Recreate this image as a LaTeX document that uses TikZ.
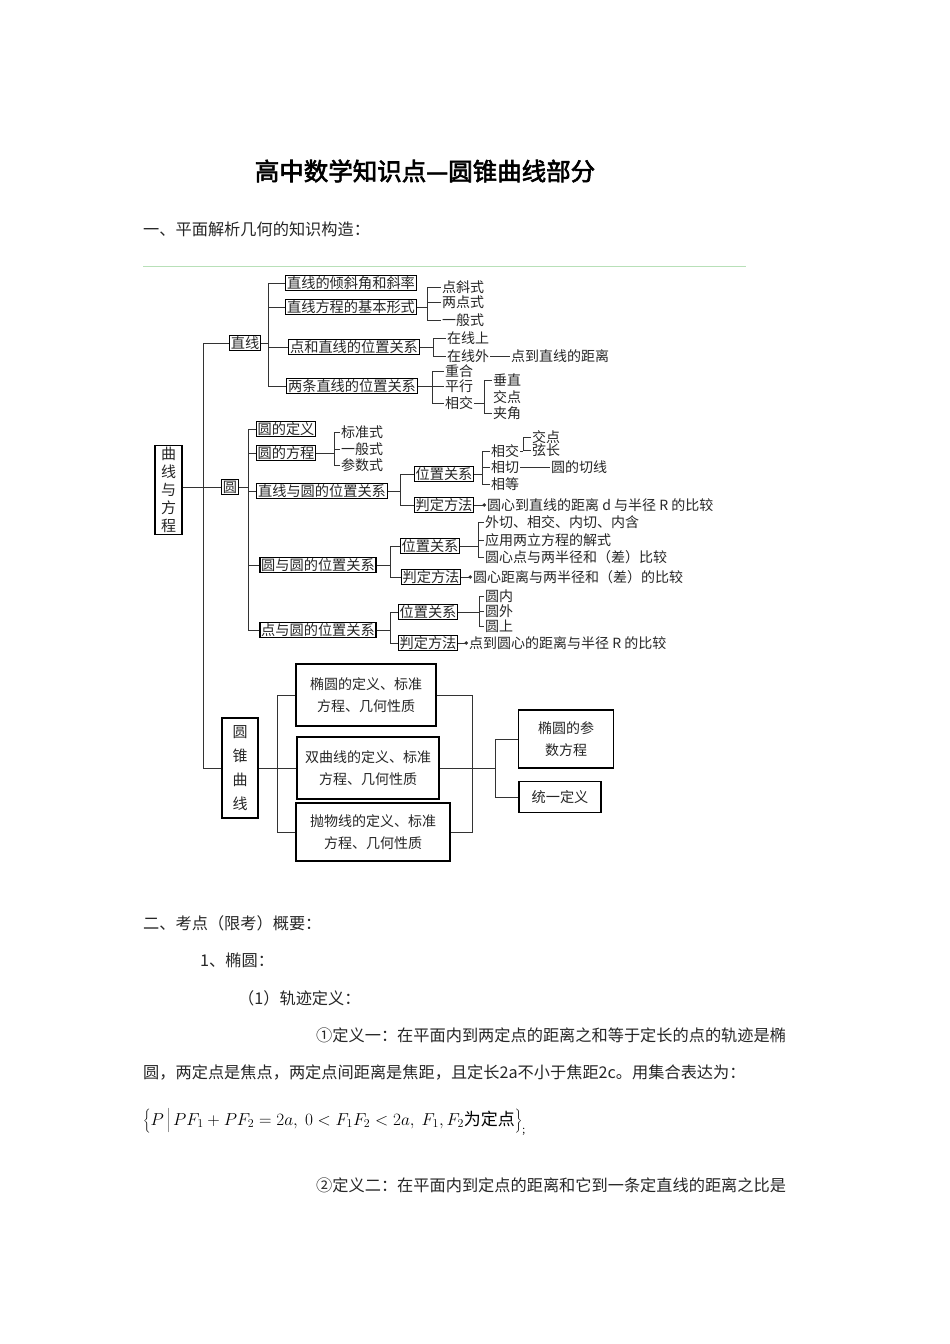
\documentclass[tikz,border=0pt]{standalone}
\usepackage{fontspec}
\usetikzlibrary{arrows.meta}
\newfontfamily\cjk[AutoFakeBold=2.5]{Noto Sans CJK SC}
\setmainfont{Liberation Serif}
\begin{document}
\begin{tikzpicture}[x=1pt,y=-1pt,
  bx/.style={draw,line width=1.1pt,inner sep=1.2pt,font=\cjk\fontsize{14.2}{15}\selectfont,text=black!85},
  lb/.style={anchor=west,inner sep=1pt,font=\cjk\fontsize{14}{15}\selectfont,text=black!85},
  tx/.style={anchor=west,inner sep=0pt,font=\cjk\fontsize{16.2}{18}\selectfont,text=black!85},
  ln/.style={line width=0.9pt,black!80},
  dotarr/.style={ln,-{Circle[length=3.5pt]}}]
\useasboundingbox (0,0) rectangle (950,1344);
\fill[white] (0,0) rectangle (950,1344);
% title and headings
\node[font=\cjk\fontsize{24.5}{26}\selectfont\bfseries] (title) at (425,171) {高中数学知识点—圆锥曲线部分};
\node[tx] (h1) at (143,229) {一、平面解析几何的知识构造：};
\draw[green!40!gray!40,line width=0.8pt] (143,266) -- (746,266);
% root
\node[bx,minimum width=27pt,minimum height=89pt,align=center,font=\cjk\fontsize{15}{18}\selectfont] (root) at (168.5,490) {曲\\线\\与\\方\\程};
\node[bx] (yuan) at (230,487) {圆};
\node[bx] (zx) at (245,343) {直线};
\node[bx,minimum width=36pt,minimum height=100pt,align=center,font=\cjk\fontsize{15}{24}\selectfont] (zq) at (240,768) {圆\\锥\\曲\\线};
\coordinate (T) at (203,0);
\draw[ln] (root.east |- yuan) -- (yuan.west);
\draw[ln] (zx.west) -- (zx.west -| T) -- (zq.west -| T) -- (zq.west);
% 直线 branch
\node[bx] (z1) at (351,283) {直线的倾斜角和斜率};
\node[bx] (z2) at (351,307) {直线方程的基本形式};
\node[bx] (z3) at (354,347) {点和直线的位置关系};
\node[bx] (z4) at (352,386) {两条直线的位置关系};
\coordinate (Z) at (268,0);
\draw[ln] (zx.east) -- (zx.east -| Z);
\draw[ln] (z1.west) -- (z1.west -| Z) -- (z4.west -| Z) -- (z4.west);
\draw[ln] (z2.west) -- (z2.west -| Z);
\draw[ln] (z3.west) -- (z3.west -| Z);
\node[lb] (a1) at (441,287) {点斜式};
\node[lb] (a2) at (441,302) {两点式};
\node[lb] (a3) at (441,320) {一般式};
\coordinate (A) at (427,0);
\draw[ln] (z2.east) -- (z2.east -| A);
\draw[ln] (a1.west) -- (a1.west -| A) -- (a3.west -| A) -- (a3.west);
\draw[ln] (a2.west) -- (a2.west -| A);
\node[lb] (b1) at (446,338) {在线上};
\node[lb] (b2) at (446,356) {在线外};
\node[lb] (b3) at (510,356) {点到直线的距离};
\coordinate (B) at (433,0);
\draw[ln] (z3.east) -- (z3.east -| B);
\draw[ln] (b1.west) -- (b1.west -| B) -- (b2.west -| B) -- (b2.west);
\draw[ln] (b2.east) -- (b3.west);
\node[lb] (c1) at (444,371) {重合};
\node[lb] (c2) at (444,386) {平行};
\node[lb] (c3) at (444,403) {相交};
\coordinate (C) at (432,0);
\draw[ln] (z4.east) -- (z4.east -| C);
\draw[ln] (c1.west) -- (c1.west -| C) -- (c3.west -| C) -- (c3.west);
\draw[ln] (c2.west) -- (c2.west -| C);
\node[lb] (d1) at (492,380) {垂直};
\node[lb] (d2) at (492,397) {交点};
\node[lb] (d3) at (492,413) {夹角};
\coordinate (D) at (484,0);
\draw[ln] (c3.east) -- (c3.east -| D);
\draw[ln] (d1.west) -- (d1.west -| D) -- (d3.west -| D) -- (d3.west);
% 圆 branch
\node[bx] (y1) at (286,429) {圆的定义};
\node[bx] (y2) at (286,453) {圆的方程};
\node[bx] (y3) at (322,491) {直线与圆的位置关系};
\node[bx] (y4) at (318,565) {圆与圆的位置关系};
\node[bx] (y5) at (318,630) {点与圆的位置关系};
\coordinate (Y) at (248,0);
\draw[ln] (yuan.east) -- (yuan.east -| Y);
\draw[ln] (y1.west) -- (y1.west -| Y) -- (y5.west -| Y) -- (y5.west);
\draw[ln] (y2.west) -- (y2.west -| Y);
\draw[ln] (y3.west) -- (y3.west -| Y);
\draw[ln] (y4.west) -- (y4.west -| Y);
\node[lb] (e1) at (340,432) {标准式};
\node[lb] (e2) at (340,449) {一般式};
\node[lb] (e3) at (340,465) {参数式};
\coordinate (E) at (334,0);
\draw[ln] (y2.east) -- (y2.east -| E);
\draw[ln] (e1.west) -- (e1.west -| E) -- (e3.west -| E) -- (e3.west);
\draw[ln] (e2.west) -- (e2.west -| E);
% 直线与圆
\node[bx] (f1) at (444,474) {位置关系};
\node[bx] (f2) at (444,505) {判定方法};
\coordinate (F) at (400,0);
\draw[ln] (y3.east) -- (y3.east -| F);
\draw[ln] (f1.west) -- (f1.west -| F) -- (f2.west -| F) -- (f2.west);
\node[lb] (f3) at (486,505) {圆心到直线的距离 \textit{d} 与半径 \textit{R} 的比较};
\draw[dotarr] (f2.east) -- (f3.west);
\node[lb] (g1) at (490,451) {相交};
\node[lb] (g2) at (490,467) {相切};
\node[lb] (g3) at (490,484) {相等};
\coordinate (G) at (482,0);
\draw[ln] (f1.east) -- (f1.east -| G);
\draw[ln] (g1.west) -- (g1.west -| G) -- (g3.west -| G) -- (g3.west);
\draw[ln] (g2.west) -- (g2.west -| G);
\node[lb] (h1a) at (531,437) {交点};
\node[lb] (h2a) at (531,450) {弦长};
\coordinate (H) at (523,0);
\draw[ln] (g1.east) -- (g1.east -| H);
\draw[ln] (h1a.west) -- (h1a.west -| H) -- (h2a.west -| H) -- (h2a.west);
\node[lb] (h3a) at (550,467) {圆的切线};
\draw[ln] (g2.east) -- (h3a.west);
% 圆与圆
\node[bx] (i1) at (430,546) {位置关系};
\node[bx] (i2) at (431,577) {判定方法};
\coordinate (I) at (390,0);
\draw[ln] (y4.east) -- (y4.east -| I);
\draw[ln] (i1.west) -- (i1.west -| I) -- (i2.west -| I) -- (i2.west);
\node[lb] (i3) at (472,577) {圆心距离与两半径和（差）的比较};
\draw[dotarr] (i2.east) -- (i3.west);
\node[lb] (j1) at (484,522) {外切、相交、内切、内含};
\node[lb] (j2) at (484,540) {应用两立方程的解式};
\node[lb] (j3) at (484,557) {圆心点与两半径和（差）比较};
\coordinate (J) at (478,0);
\draw[ln] (i1.east) -- (i1.east -| J);
\draw[ln] (j1.west) -- (j1.west -| J) -- (j3.west -| J) -- (j3.west);
\draw[ln] (j2.west) -- (j2.west -| J);
% 点与圆
\node[bx] (k1) at (428,612) {位置关系};
\node[bx] (k2) at (428,643) {判定方法};
\coordinate (K) at (390,0);
\draw[ln] (y5.east) -- (y5.east -| K);
\draw[ln] (k1.west) -- (k1.west -| K) -- (k2.west -| K) -- (k2.west);
\node[lb] (k3) at (468,643) {点到圆心的距离与半径 \textit{R} 的比较};
\draw[dotarr] (k2.east) -- (k3.west);
\node[lb] (l1) at (484,596) {圆内};
\node[lb] (l2) at (484,611) {圆外};
\node[lb] (l3) at (484,626) {圆上};
\coordinate (L) at (479,0);
\draw[ln] (k1.east) -- (k1.east -| L);
\draw[ln] (l1.west) -- (l1.west -| L) -- (l3.west -| L) -- (l3.west);
\draw[ln] (l2.west) -- (l2.west -| L);
% 圆锥曲线
\node[bx,minimum width=140pt,minimum height=62pt,align=center,font=\cjk\fontsize{14}{22}\selectfont] (m1) at (366,695) {椭圆的定义、标准\\方程、几何性质};
\node[bx,minimum width=142pt,minimum height=62pt,align=center,font=\cjk\fontsize{14}{22}\selectfont] (m2) at (368,768) {双曲线的定义、标准\\方程、几何性质};
\node[bx,minimum width=154pt,minimum height=58pt,align=center,font=\cjk\fontsize{14}{22}\selectfont] (m3) at (373,832) {抛物线的定义、标准\\方程、几何性质};
\coordinate (M) at (277,0);
\draw[ln] (zq.east) -- (zq.east -| M);
\draw[ln] (m1.west) -- (m1.west -| M) -- (m3.west -| M) -- (m3.west);
\draw[ln] (m2.west) -- (m2.west -| M);
\coordinate (N) at (472,0);
\draw[ln] (m1.east) -- (m1.east -| N) -- (m3.east -| N) -- (m3.east);
\draw[ln] (m2.east) -- (m2.east -| N);
\node[bx,minimum width=95pt,minimum height=58pt,align=center,font=\cjk\fontsize{14}{22}\selectfont] (n1) at (566,739) {椭圆的参\\数方程};
\node[bx,minimum width=82pt,minimum height=31pt] (n2) at (560,797) {统一定义};
\coordinate (P) at (495,0);
\draw[ln] (m2.east -| N) -- (m2.east -| P);
\draw[ln] (n1.west) -- (n1.west -| P) -- (n2.west -| P) -- (n2.west);
% body text
\node[tx] (s1) at (143,923) {二、考点（限考）概要：};
\node[tx] (s2) at (200,960) {1、椭圆：};
\node[tx] (s3) at (238,998) {（1）轨迹定义：};
\node[tx] (s4) at (316,1035) {①定义一：在平面内到两定点的距离之和等于定长的点的轨迹是椭};
\node[tx] (s5) at (143,1072) {圆，两定点是焦点，两定点间距离是焦距，且定长2a不小于焦距2c。用集合表达为：};
\node[anchor=west,inner sep=0pt,font=\fontsize{17}{20}\selectfont] (s6) at (143,1122) {$\left\{P\,\middle|\,PF_1+PF_2=2a,\ 0<F_1F_2<2a,\ F_1,F_2\mbox{\cjk 为定点}\right\}$\raisebox{-8pt}{\cjk\fontsize{10}{10}\selectfont ;}};
\node[tx] (s7) at (316,1185) {②定义二：在平面内到定点的距离和它到一条定直线的距离之比是};
\end{tikzpicture}
\end{document}
